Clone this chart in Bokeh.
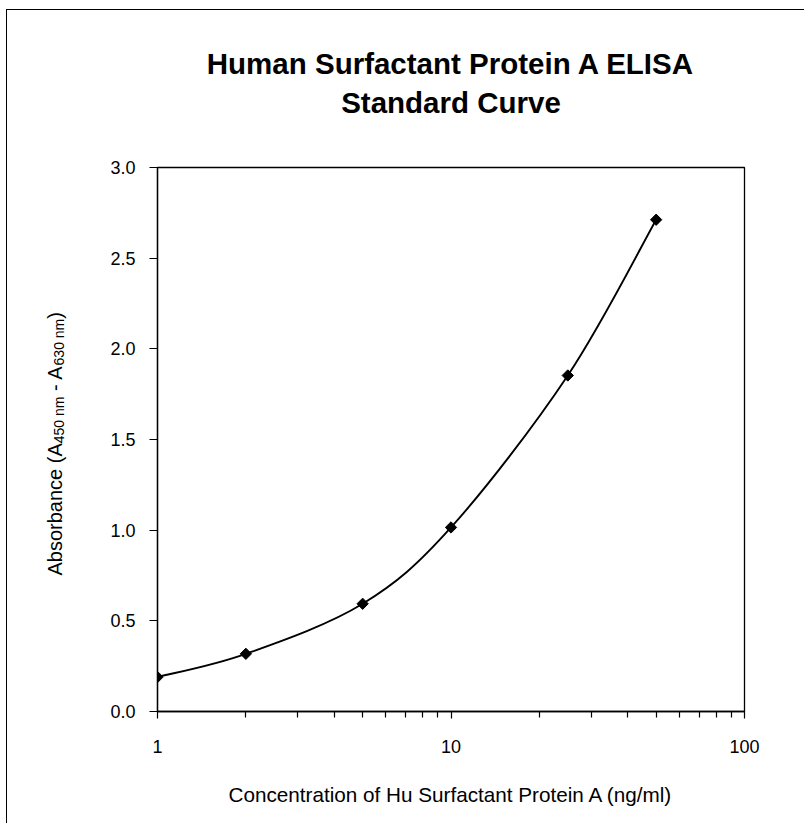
import math
from bokeh.plotting import figure
from bokeh.models import Range1d, FixedTicker, Label, Title, PrintfTickFormatter, BasicTickFormatter
from bokeh.layouts import row
from bokeh.embed import file_html
from bokeh.resources import INLINE

# ---------------- data ----------------
conc = [1, 2, 5, 10, 25, 50]
absorbance = [0.19, 0.318, 0.594, 1.015, 1.853, 2.712]

x_major = [1, 10, 100]
x_minor = [2, 3, 4, 5, 6, 7, 8, 9, 20, 30, 40, 50, 60, 70, 80, 90]
x_tick_labels = ["1", "10", "100"]
y_major = [0.0, 0.5, 1.0, 1.5, 2.0, 2.5, 3.0]

title_lines = ["Human Surfactant Protein A ELISA", "Standard Curve"]
x_title = "Concentration of Hu Surfactant Protein A (ng/ml)"
y_title_parts = ["Absorbance (A", "450 nm", " - A", "630 nm", ")"]
y_title_is_sub = [False, True, False, True, False]

# ---------------- layout ----------------
FONT = "Liberation Sans"
FRAME_W, FRAME_H = 587, 544
X_LO, X_HI = 1, 100
Y_LO, Y_HI = 0.0, 3.0
LEFT_W = 100          # helper panel holding the rotated y title
TOP_B, BOT_B = 157, 112
H = TOP_B + FRAME_H + BOT_B

p = figure(width=697, height=H, x_axis_type="log",
           x_range=Range1d(X_LO, X_HI), y_range=Range1d(Y_LO, Y_HI),
           output_backend="svg", toolbar_location=None,
           min_border_left=50, min_border_right=60,
           min_border_top=TOP_B, min_border_bottom=BOT_B)
p.background_fill_color = "white"
p.border_fill_color = "white"
p.outline_line_color = "black"
p.outline_line_width = 1.3
p.xgrid.visible = False
p.ygrid.visible = False

# titles: the first one added sits next to the frame (an invisible spacer first)
p.add_layout(Title(text=" ", text_font_size="1px", standoff=44), "above")
p.add_layout(Title(text=title_lines[1], align="center", standoff=4,
                   text_font=FONT, text_font_size="29.5px", text_font_style="bold",
                   text_color="black"), "above")
p.add_layout(Title(text=title_lines[0], align="center", standoff=4,
                   text_font=FONT, text_font_size="29.5px", text_font_style="bold",
                   text_color="black"), "above")

# x axis
p.xaxis.ticker = FixedTicker(ticks=x_major, minor_ticks=x_minor)
p.xaxis.formatter = BasicTickFormatter()
p.xaxis.major_label_overrides = {t: s for t, s in zip(x_major, x_tick_labels)}
p.xaxis.axis_line_width = 1.3
p.xaxis.major_tick_in = 0
p.xaxis.major_tick_out = 7
p.xaxis.minor_tick_in = 0
p.xaxis.minor_tick_out = 6
p.xaxis.major_tick_line_width = 1.2
p.xaxis.minor_tick_line_width = 1.2
p.xaxis.major_label_standoff = 21
p.xaxis.major_label_text_font = FONT
p.xaxis.major_label_text_font_size = "18px"
p.xaxis.major_label_text_color = "black"
p.xaxis.axis_label = x_title
p.xaxis.axis_label_text_font = FONT
p.xaxis.axis_label_text_font_size = "20.7px"
p.xaxis.axis_label_text_font_style = "normal"
p.xaxis.axis_label_text_color = "black"
p.xaxis.axis_label_standoff = 27

# y axis
p.yaxis.ticker = FixedTicker(ticks=y_major)
p.yaxis.formatter = PrintfTickFormatter(format="%.1f")
p.yaxis.axis_line_width = 1.3
p.yaxis.major_tick_in = 0
p.yaxis.major_tick_out = 8
p.yaxis.minor_tick_line_color = None
p.yaxis.major_tick_line_width = 1.2
p.yaxis.major_label_standoff = 14
p.yaxis.major_label_text_font = FONT
p.yaxis.major_label_text_font_size = "18px"
p.yaxis.major_label_text_color = "black"

# ---------------- smoothed curve (Excel-like Bezier through the points) ----------------
px_per_decade = FRAME_W / (math.log10(X_HI) - math.log10(X_LO))
px_per_unit = FRAME_H / (Y_HI - Y_LO)
pts = [(math.log10(c) * px_per_decade, a * px_per_unit) for c, a in zip(conc, absorbance)]
n = len(pts)
to_x = lambda u: 10 ** (u / px_per_decade)
to_y = lambda v: v / px_per_unit
x0s, y0s, x1s, y1s, cx0s, cy0s, cx1s, cy1s = [], [], [], [], [], [], [], []
for i in range(n - 1):
    P0, P1 = pts[i], pts[i + 1]
    Pm = pts[i - 1] if i > 0 else P0
    P2 = pts[i + 2] if i + 2 < n else P1
    c1 = (P0[0] + (P1[0] - Pm[0]) / 6, P0[1] + (P1[1] - Pm[1]) / 6)
    c2 = (P1[0] - (P2[0] - P0[0]) / 6, P1[1] - (P2[1] - P0[1]) / 6)
    x0s.append(conc[i]); y0s.append(absorbance[i])
    x1s.append(conc[i + 1]); y1s.append(absorbance[i + 1])
    cx0s.append(to_x(c1[0])); cy0s.append(to_y(c1[1]))
    cx1s.append(to_x(c2[0])); cy1s.append(to_y(c2[1]))

p.bezier(x0=x0s, y0=y0s, x1=x1s, y1=y1s, cx0=cx0s, cy0=cy0s, cx1=cx1s, cy1=cy1s,
         line_color="black", line_width=1.9)
p.scatter(conc, absorbance, marker="square", angle=math.pi / 4, size=8, color="black")

# ---------------- helper panel with the rotated y title (mixed sizes) ----------------
# (its frame is aligned with the main frame by the row layout)
yl = figure(width=LEFT_W, height=H, x_range=Range1d(0, LEFT_W), y_range=Range1d(0, FRAME_H),
            output_backend="svg", toolbar_location=None,
            x_axis_location=None, y_axis_location=None, min_border=0)
yl.outline_line_color = None
yl.background_fill_color = "white"
yl.border_fill_color = "white"
yl.xgrid.visible = False
yl.ygrid.visible = False

W = {"A": 667, "b": 556, "s": 500, "o": 556, "r": 333, "a": 556, "n": 556, "c": 500,
     "e": 556, " ": 278, "(": 333, ")": 333, "-": 333, "m": 833}
for d in "0123456789":
    W[d] = 556
MAIN, SUB = 20, 14
BASE_X = 54                      # baseline of the rotated text, px from panel left
pos = 136.0                      # start of the text, px above the frame bottom
for part, is_sub in zip(y_title_parts, y_title_is_sub):
    size = SUB if is_sub else MAIN
    lead = len(part) - len(part.lstrip(" "))
    txt = part.lstrip(" ")
    start = pos + sum(W[ch] for ch in part[:lead]) * size / 1000
    length = sum(W[ch] for ch in txt) * size / 1000
    cx = BASE_X - 0.3465 * size + (2 if is_sub else 0)
    yl.add_layout(Label(x=cx, y=start + length / 2, x_units="screen", y_units="screen",
                        text=txt, angle=math.pi / 2, text_font=FONT,
                        text_font_size=f"{size}px", text_align="center",
                        text_baseline="middle", text_color="black"))
    pos += sum(W[ch] for ch in part) * size / 1000

layout = row(yl, p, styles={"margin-left": "6px", "margin-top": "9px",
                            "border-top": "1px solid black", "border-left": "1px solid black"})
open("out.html", "w").write(file_html(layout, INLINE))
